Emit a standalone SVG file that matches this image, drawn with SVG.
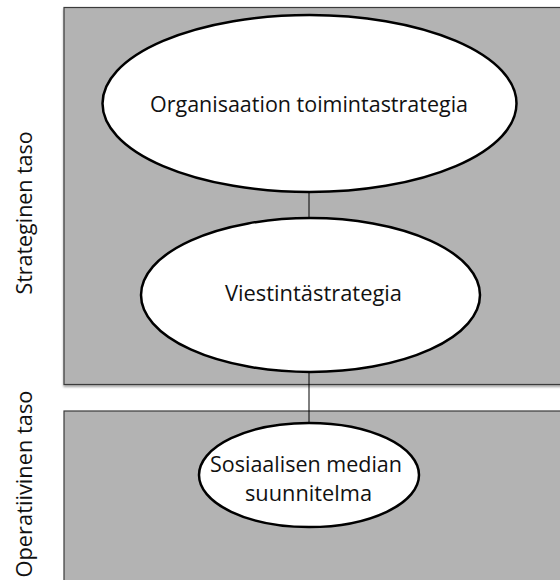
<svg xmlns="http://www.w3.org/2000/svg" width="560" height="580" viewBox="0 0 560 580">
<defs>
<style>
.panel{fill:#b3b3b3;stroke:#3a3a3a;stroke-width:1.2}
.node{fill:#ffffff;stroke:#000000;stroke-width:2.5}
.lbl{font-family:"Open Sans","Liberation Sans",sans-serif;font-size:22px;fill:#111111;text-anchor:middle}
.conn{stroke:#000000;stroke-width:1;fill:none}
</style>
<filter id="sh" x="-5%" y="-5%" width="110%" height="115%">
<feDropShadow dx="0" dy="2" stdDeviation="1.2" flood-color="#000" flood-opacity="0.35"/>
</filter>
</defs>
<rect width="560" height="580" fill="#ffffff"/>
<g id="panel-strategic">
<rect class="panel" x="64" y="7.5" width="500" height="377" filter="url(#sh)"/>
<text class="lbl" transform="translate(32,213) rotate(-90)" textLength="163" lengthAdjust="spacingAndGlyphs">Strateginen taso</text>
</g>
<g id="panel-operative">
<rect class="panel" x="64" y="411" width="500" height="175"/>
<text class="lbl" transform="translate(32,484) rotate(-90)" textLength="187" lengthAdjust="spacingAndGlyphs">Operatiivinen taso</text>
</g>
<g id="connectors">
<line class="conn" x1="309" y1="192" x2="309" y2="218"/>
<line class="conn" x1="309" y1="372" x2="309" y2="423"/>
</g>
<g id="node-org">
<ellipse class="node" cx="309.5" cy="103.5" rx="207" ry="88.5"/>
<text class="lbl" x="309" y="112" textLength="318" lengthAdjust="spacingAndGlyphs">Organisaation toimintastrategia</text>
</g>
<g id="node-viestinta">
<ellipse class="node" cx="310.5" cy="295" rx="169.5" ry="77"/>
<text class="lbl" x="313.5" y="301" textLength="177" lengthAdjust="spacingAndGlyphs">Viestintästrategia</text>
</g>
<g id="node-some">
<ellipse class="node" cx="309" cy="475" rx="110" ry="52"/>
<text class="lbl" x="306" y="472" textLength="192" lengthAdjust="spacingAndGlyphs">Sosiaalisen median</text>
<text class="lbl" x="308.5" y="501" textLength="127" lengthAdjust="spacingAndGlyphs">suunnitelma</text>
</g>
</svg>
